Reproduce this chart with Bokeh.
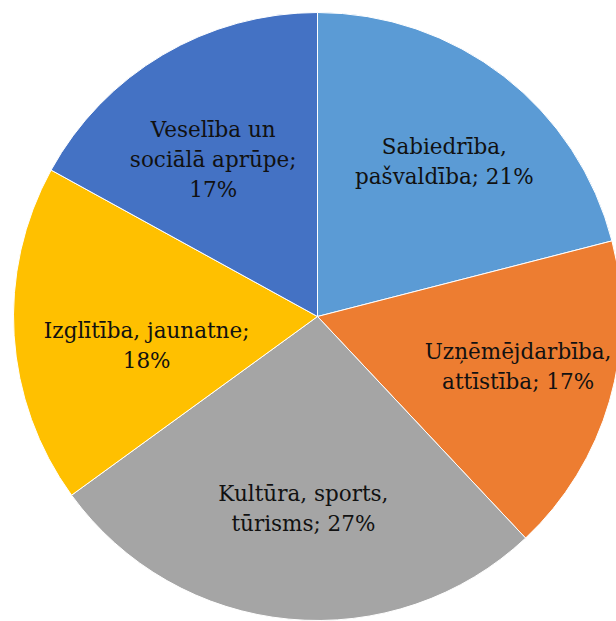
import math
from bokeh.plotting import figure
from bokeh.models import ColumnDataSource, Range1d
from bokeh.core.properties import value
from bokeh.embed import file_html
from bokeh.resources import INLINE

# Shares of the budget by field, clockwise from 12 o'clock
categories = [
    "Sabiedrība, pašvaldība",
    "Uzņēmējdarbība, attīstība",
    "Kultūra, sports, tūrisms",
    "Izglītība, jaunatne",
    "Veselība un sociālā aprūpe",
]
shares = [21, 17, 27, 18, 17]
colors = ["#5B9BD5", "#ED7D31", "#A5A5A5", "#FFC000", "#4472C4"]

# label text: name and percentage
label_texts = [
    "Sabiedrība,\npašvaldība; 21%",
    "Uzņēmējdarbība,\nattīstība; 17%",
    "Kultūra, sports,\ntūrisms; 27%",
    "Izglītība, jaunatne;\n18%",
    "Veselība un\nsociālā aprūpe;\n17%",
]
# label placement: distance from the centre (fraction of radius) and a
# small angular nudge (degrees) away from the slice's middle direction
label_radial = [0.66, 0.68, 0.633, 0.57, 0.62]
label_nudge = [-1.4, 2.2, 1.2, 6.0, 3.0]

W, H = 616, 621
cx, cy, R = 317, 621 - 316, 304

total = float(sum(shares))
starts, ends, lx, ly = [], [], [], []
cum = 0.0
for s, f, d in zip(shares, label_radial, label_nudge):
    a0 = math.pi / 2 - 2 * math.pi * cum / total
    a1 = math.pi / 2 - 2 * math.pi * (cum + s) / total
    starts.append(a1)
    ends.append(a0)
    mid = (a0 + a1) / 2 + math.radians(d)
    lx.append(cx + f * R * math.cos(mid))
    ly.append(cy + f * R * math.sin(mid))
    cum += s

src = ColumnDataSource(dict(start=starts, end=ends, color=colors,
                            lx=lx, ly=ly, label=label_texts))

p = figure(width=W, height=H, output_backend="svg", toolbar_location=None,
           x_range=Range1d(0, W), y_range=Range1d(0, H), min_border=0)
p.axis.visible = False
p.grid.visible = False
p.outline_line_color = None
p.background_fill_color = "white"
p.border_fill_color = "white"

p.wedge(x=cx, y=cy, radius=R, start_angle="start", end_angle="end",
        fill_color="color", line_color="white", line_width=1, source=src)

p.text(x="lx", y="ly", text="label", source=src,
       text_font=value("DejaVu Serif"),
       text_font_size="21.5px",
       text_color="#111111", text_align="center", text_baseline="middle",
       text_line_height=1.2)

open("out.html", "w").write(file_html(p, INLINE))
